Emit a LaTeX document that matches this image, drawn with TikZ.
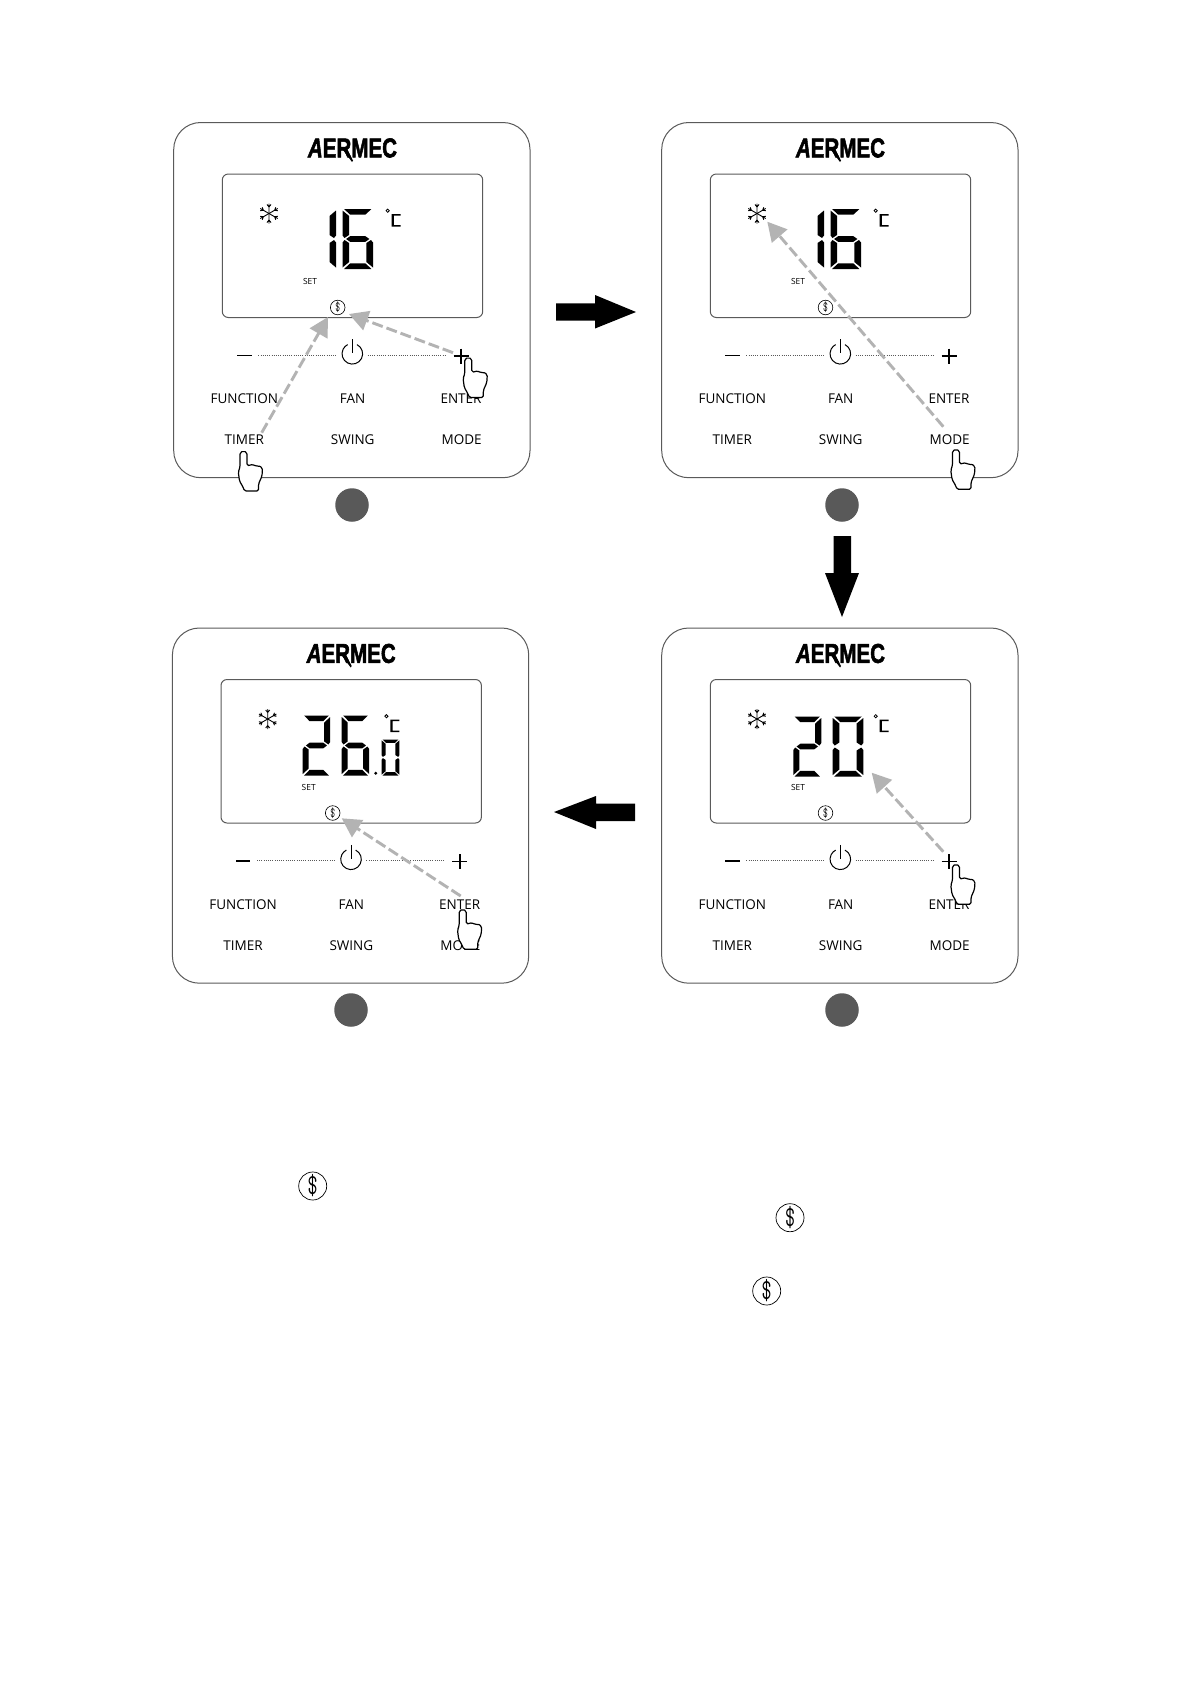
\documentclass[tikz,border=0pt]{standalone}
\usepackage{fontspec}
\usepackage{graphicx}
\setmainfont{Open Sans}
\newfontfamily\logofont[FakeBold=2.2]{Liberation Sans}
\usetikzlibrary{arrows.meta}
\definecolor{ptrgray}{HTML}{B3B3B3}
\definecolor{dotgray}{HTML}{595959}
\definecolor{framegray}{HTML}{5A5A5A}
\newcommand{\dollarglyph}{\scalebox{.72}[1.08]{\$}}
\tikzset{
  framebox/.style={draw=framegray,line width=1pt,rounded corners=27pt},
  lcdbox/.style={draw=framegray,line width=1pt,rounded corners=6pt},
  keylabel/.style={inner sep=0pt,font=\fontsize{13.5}{14}\selectfont},
  setlabel/.style={inner sep=0pt,font=\fontsize{8.4}{8}\selectfont},
  smalldollar/.style={circle,draw=black,line width=.6pt,minimum size=14.6pt,inner sep=0pt,font=\ttfamily\fontsize{13}{13}\selectfont},
  bigdollar/.style={circle,draw=black,line width=.7pt,minimum size=28pt,inner sep=0pt,font=\ttfamily\fontsize{27}{27}\selectfont},
  pointer/.style={draw=ptrgray,line width=2.9pt,dash pattern=on 11pt off 4pt,-{Triangle[length=19pt,width=20pt,fill=ptrgray]}},
  stepdot/.style={circle,fill=dotgray,minimum size=33.5pt,inner sep=0pt},
  bigarrow/.style={fill=black},
  handshape/.style={fill=white,draw=black,line width=1.2pt,rounded corners=1.6pt,line join=round},
}
% seven-segment parts in a 30 x 60 cell
\newcommand{\segA}{\fill (1.5,0) -- (28.5,0) -- (22.5,5.6) -- (7.5,5.6) -- cycle;}
\newcommand{\segB}{\fill (30,1.5) -- (30,26.5) -- (28,29) -- (23.5,26) -- (23.5,7) -- cycle;}
\newcommand{\segC}{\fill (30,58.5) -- (30,33.5) -- (28,31) -- (23.5,34) -- (23.5,53) -- cycle;}
\newcommand{\segD}{\fill (1.5,60) -- (28.5,60) -- (22.5,54.4) -- (7.5,54.4) -- cycle;}
\newcommand{\segE}{\fill (0,58.5) -- (0,33.5) -- (2,31) -- (6.5,34) -- (6.5,53) -- cycle;}
\newcommand{\segF}{\fill (0,1.5) -- (0,26.5) -- (2,29) -- (6.5,26) -- (6.5,7) -- cycle;}
\newcommand{\segG}{\fill (3.5,30) -- (7.5,27.2) -- (22.5,27.2) -- (26.5,30) -- (22.5,32.8) -- (7.5,32.8) -- cycle;}
\newcommand{\lcdDigit}[5]{\begin{scope}[shift={(#1,#2)},xscale=#3/30,yscale=#4/60]#5\end{scope}}
\newcommand{\lcdOne}[2]{\lcdDigit{#1}{#2}{30}{60}{\segB\segC}}
\newcommand{\lcdTwo}[3]{\lcdDigit{#1}{#2}{#3}{60}{\segA\segB\segG\segE\segD}}
\newcommand{\lcdSix}[3]{\lcdDigit{#1}{#2}{#3}{60}{\segA\segF\segG\segE\segC\segD}}
\newcommand{\lcdZero}[4]{\lcdDigit{#1}{#2}{#3}{#4}{\segA\segB\segC\segD\segE\segF}}
% pointing hand, anchored on the finger tip
\newcommand{\pointinghand}[2]{%
  \draw[handshape,shift={(#1,#2)}] (0,0) -- (-3.5,1.5) -- (-3.5,16) -- (-5.2,21) -- (-4,30) -- (-.5,36) -- (1,40) -- (15,40) -- (15,33) -- (18.5,25) -- (19,17) -- (15,14.5) -- (12,15.5) -- (9.5,13) -- (6.5,14.5) -- (3.5,14.5) -- (3.5,1.5) -- cycle;}
% panel: #1 name, #2 dx, #3 dy, #4 dollar x, #5 minus width, #6 digits
\newcommand{\panel}[6]{%
\begin{scope}[shift={(#2,#3)}]
  \draw[framebox] (173.7,122.5) rectangle (530,477.7);
  \draw[lcdbox] (222.3,174) rectangle (482.7,317.5);
  \node[inner sep=0pt,anchor=center] (#1logo) at (352.5,148) {\resizebox{89pt}{19pt}{\logofont\bfseries{\itshape A}ERMEC}};
  \fill (343,150) -- (347.5,150) -- (353,160.5) -- (352,162) -- cycle;
  \begin{scope}[shift={(269,213.5)}]
    \foreach \a in {90,30,-30,-90,-150,150}{
      \draw[black,line width=.9pt,rotate=\a] (0,0) -- (10,0) (6.5,0) -- (9,2) (6.5,0) -- (9,-2);
    }
  \end{scope}
  #6
  \draw[black,line width=.8pt] (387.7,210.7) circle[radius=1.6pt];
  \fill (391.7,214) rectangle (393.8,226.7) (391.7,214) rectangle (400.7,215.6) (393.8,225.2) rectangle (400.7,226.7);
  \node[setlabel] (#1set) at (310,281.5) {SET};
  \node[smalldollar] (#1dollar) at (#4,307.5) {\dollarglyph};
  \draw[black,line width=#5] (237.3,355) -- (251.7,355);
  \draw[dotgray,line width=.8pt,dash pattern=on 1pt off 1.2pt] (258.3,355) -- (336.7,355) (367.7,355) -- (446.7,355);
  \draw[black,line width=1pt] (357,344.6) arc[start angle=63,end angle=-243,radius=10.3pt];
  \draw[black,line width=1pt] (352.3,339.3) -- (352.3,353);
  \draw[black,line width=1.6pt] (453.5,356) -- (468.5,356) (461,348.5) -- (461,363.5);
  \node[keylabel] (#1func) at (244.3,399) {FUNCTION};
  \node[keylabel] (#1fan) at (352.7,399) {FAN};
  \node[keylabel] (#1ent) at (461,399) {ENTER};
  \node[keylabel] (#1tim) at (244.3,440) {TIMER};
  \node[keylabel] (#1swi) at (352.7,440) {SWING};
  \node[keylabel] (#1mod) at (461.7,440) {MODE};
\end{scope}}
\begin{document}
\begin{tikzpicture}[x=1pt,y=-1pt]
\useasboundingbox (0,0) rectangle (1191,1684);
\fill[white] (0,0) rectangle (1191,1684);
\panel{p1}{0}{0}{337.7}{1pt}{\lcdOne{306}{209}\lcdSix{342.5}{209}{30.5}}
\panel{p2}{488}{0}{337.5}{1pt}{\lcdOne{306}{209}\lcdSix{342.5}{209}{30.5}}
\panel{p3}{-1.3}{505.5}{334}{2pt}{\lcdTwo{304}{210}{27.5}\lcdSix{343}{210}{27.5}\fill (377,267.7) circle[radius=1.6pt];\lcdZero{383}{234}{17.6}{36}}
\panel{p4}{488}{505.5}{337.5}{2pt}{\lcdTwo{305.3}{211}{28}\lcdZero{344.7}{211}{30.6}{60}}
% step markers
\node[stepdot] (m1) at (352,505) {};
\node[stepdot] (m2) at (842,505) {};
\node[stepdot] (m3) at (351,1010) {};
\node[stepdot] (m4) at (842,1010) {};
% pointers
\coordinate (a1s) at (261.7,432.7); \coordinate (a1t) at (328,317);
\coordinate (a2s) at (453,352.7);   \coordinate (a2t) at (349,314);
\coordinate (a3s) at (943.3,426.7); \coordinate (a3t) at (767.3,221.7);
\coordinate (a4s) at (943.3,851.7); \coordinate (a4t) at (871.7,772.7);
\coordinate (a5s) at (460.7,896);   \coordinate (a5t) at (341.7,818.3);
\draw[pointer] (a1s) -- (a1t);
\draw[pointer] (a2s) -- (a2t);
\draw[pointer] (a3s) -- (a3t);
\draw[pointer] (a4s) -- (a4t);
\draw[pointer] (a5s) -- (a5t);
% hands
\pointinghand{243.5}{451}
\pointinghand{468.3}{357.5}
\pointinghand{956}{449.3}
\pointinghand{956}{864.3}
\pointinghand{462.7}{909.3}
% big arrows
\fill[bigarrow] (556,303.3) -- (595,303.3) -- (595,295) -- (636,312) -- (595,328.5) -- (595,320.7) -- (556,320.7) -- cycle;
\fill[bigarrow] (833.5,536) -- (851,536) -- (851,573) -- (859,573) -- (842,617) -- (825,573) -- (833.5,573) -- cycle;
\fill[bigarrow] (635,803.5) -- (596,803.5) -- (596,796) -- (554,812) -- (596,829) -- (596,821) -- (635,821) -- cycle;
% free-standing icons
\node[bigdollar] (d1) at (312.7,1186) {\dollarglyph};
\node[bigdollar] (d2) at (790,1217.7) {\dollarglyph};
\node[bigdollar] (d3) at (766.7,1291) {\dollarglyph};
\end{tikzpicture}
\end{document}
